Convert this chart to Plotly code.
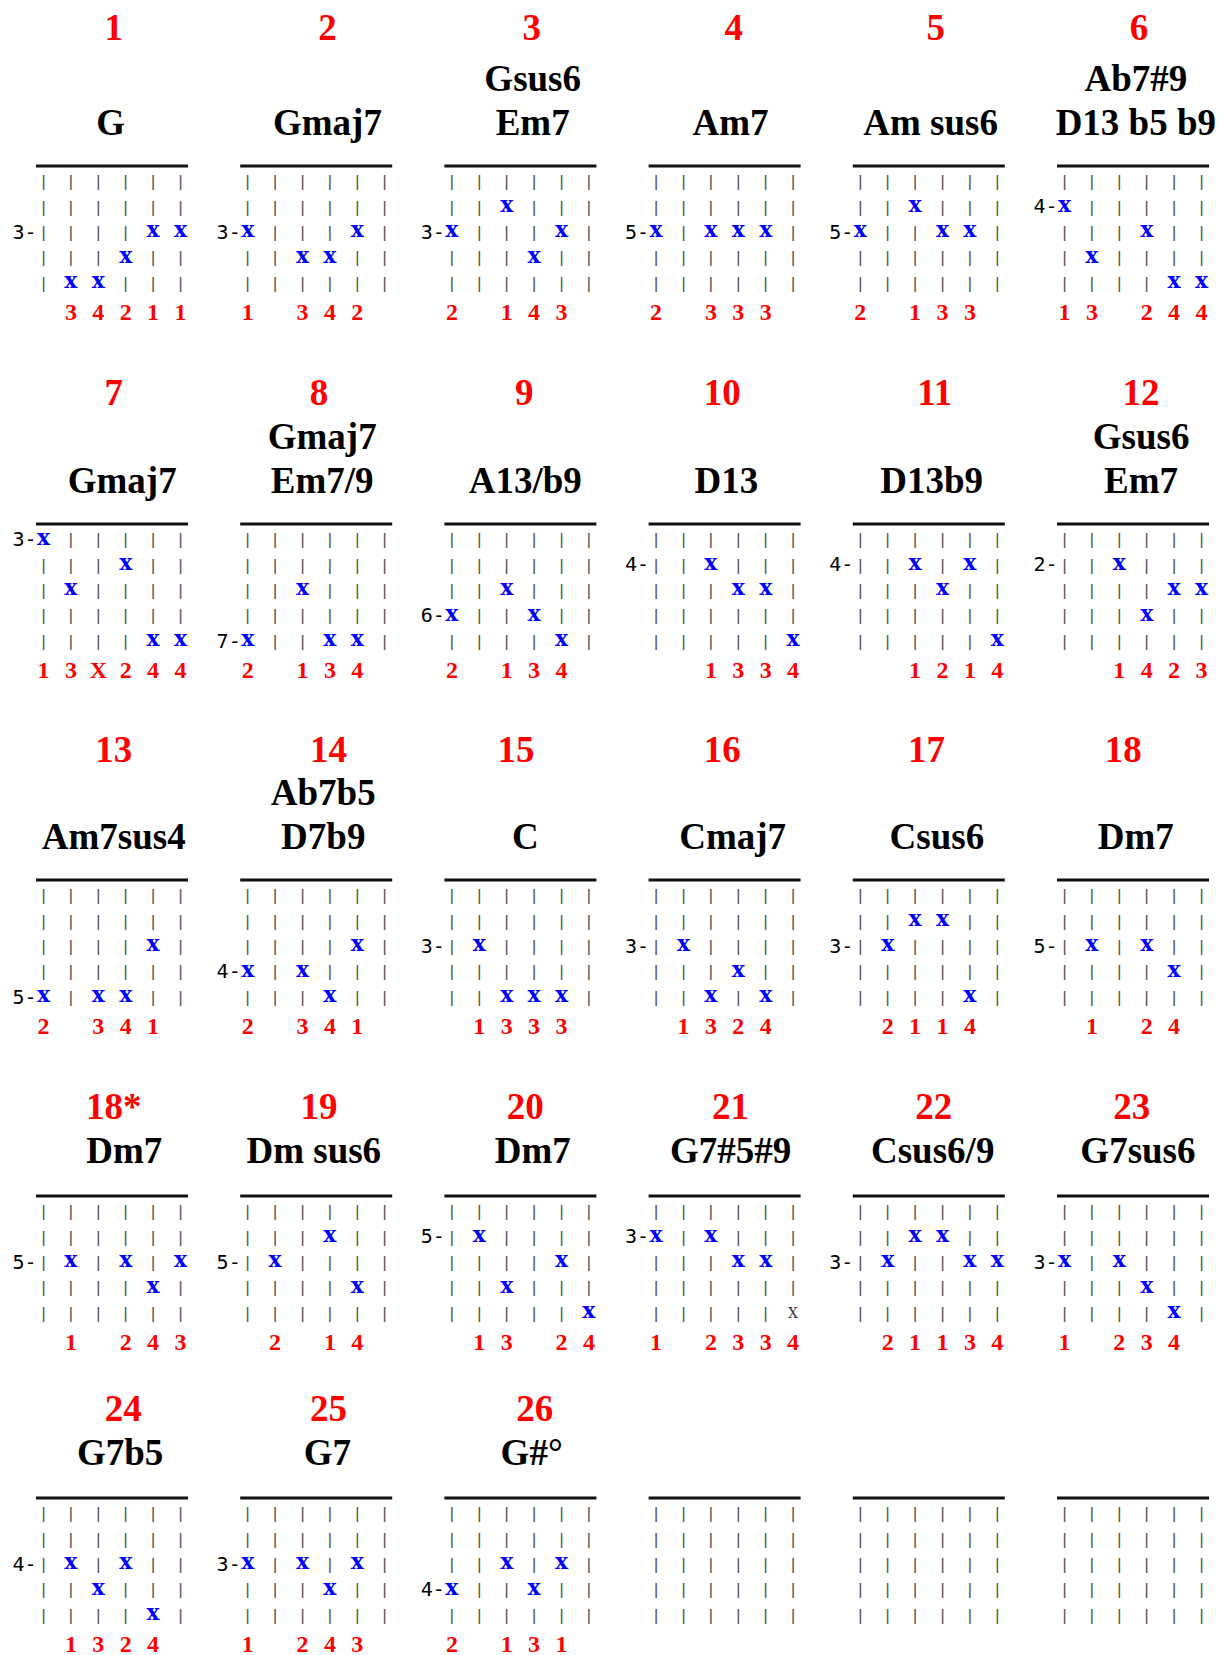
import plotly.graph_objects as go

# ---------------- data ----------------
chord_numbers = ["1", "2", "3", "4", "5", "6",
                 "7", "8", "9", "10", "11", "12",
                 "13", "14", "15", "16", "17", "18",
                 "18*", "19", "20", "21", "22", "23",
                 "24", "25", "26"]

chord_names_upper = ["", "", "Gsus6", "", "", "Ab7#9",
                     "", "Gmaj7", "", "", "", "Gsus6",
                     "", "Ab7b5", "", "", "", "",
                     "", "", "", "", "", "",
                     "", "", ""]

chord_names_lower = ["G", "Gmaj7", "Em7", "Am7", "Am sus6", "D13 b5 b9",
                     "Gmaj7", "Em7/9", "A13/b9", "D13", "D13b9", "Em7",
                     "Am7sus4", "D7b9", "C", "Cmaj7", "Csus6", "Dm7",
                     "Dm7", "Dm sus6", "Dm7", "G7#5#9", "Csus6/9", "G7sus6",
                     "G7b5", "G7", "G#°"]

# fret number shown at the left of the diagram, and the grid row it sits on
fret_labels = ["3", "3", "3", "5", "5", "4",
               "3", "7", "6", "4", "4", "2",
               "5", "4", "3", "3", "3", "5",
               "5", "5", "5", "3", "3", "3",
               "4", "3", "4"]
fret_label_rows = [2, 2, 2, 2, 2, 1,
                   0, 4, 3, 1, 1, 1,
                   4, 3, 2, 2, 2, 2,
                   2, 2, 1, 1, 2, 2,
                   2, 2, 3]

# 5 fret rows x 6 strings: '|' open string, 'x' fretted note, 'X' muted mark
chord_grids = [
    ["||||||", "||||||", "||||xx", "|||x||", "|xx|||"],   # 1
    ["||||||", "||||||", "x|||x|", "||xx||", "||||||"],   # 2
    ["||||||", "||x|||", "x|||x|", "|||x||", "||||||"],   # 3
    ["||||||", "||||||", "x|xxx|", "||||||", "||||||"],   # 4
    ["||||||", "||x|||", "x||xx|", "||||||", "||||||"],   # 5
    ["||||||", "x|||||", "|||x||", "|x||||", "||||xx"],   # 6
    ["x|||||", "|||x||", "|x||||", "||||||", "||||xx"],   # 7
    ["||||||", "||||||", "||x|||", "||||||", "x||xx|"],   # 8
    ["||||||", "||||||", "||x|||", "x||x||", "||||x|"],   # 9
    ["||||||", "||x|||", "|||xx|", "||||||", "|||||x"],   # 10
    ["||||||", "||x|x|", "|||x||", "||||||", "|||||x"],   # 11
    ["||||||", "||x|||", "||||xx", "|||x||", "||||||"],   # 12
    ["||||||", "||||||", "||||x|", "||||||", "x|xx||"],   # 13
    ["||||||", "||||||", "||||x|", "x|x|||", "|||x||"],   # 14
    ["||||||", "||||||", "|x||||", "||||||", "||xxx|"],   # 15
    ["||||||", "||||||", "|x||||", "|||x||", "||x|x|"],   # 16
    ["||||||", "||xx||", "|x||||", "||||||", "||||x|"],   # 17
    ["||||||", "||||||", "|x|x||", "||||x|", "||||||"],   # 18
    ["||||||", "||||||", "|x|x|x", "||||x|", "||||||"],   # 18*
    ["||||||", "|||x||", "|x||||", "||||x|", "||||||"],   # 19
    ["||||||", "|x||||", "||||x|", "||x|||", "|||||x"],   # 20
    ["||||||", "x|x|||", "|||xx|", "||||||", "|||||X"],   # 21
    ["||||||", "||xx||", "|x||xx", "||||||", "||||||"],   # 22
    ["||||||", "||||||", "x|x|||", "|||x||", "||||x|"],   # 23
    ["||||||", "||||||", "|x|x||", "||x|||", "||||x|"],   # 24
    ["||||||", "||||||", "x|x|x|", "|||x||", "||||||"],   # 25
    ["||||||", "||||||", "||x|x|", "x||x||", "||||||"],   # 26
]

# finger numbers under each string (' ' = none)
chord_fingers = [" 34211", "1 342 ", "2 143 ", "2 333 ", "2 133 ", "13 244",
                 "13X244", "2 134 ", "2 134 ", "  1334", "  1214", "  1423",
                 "2 341 ", "2 341 ", " 1333 ", " 1324 ", " 2114 ", " 1 24 ",
                 " 1 243", " 2 14 ", " 13 24", "1 2334", " 21134", "1 234 ",
                 " 1324 ", "1 243 ", "2 131 "]

blank_grid = ["||||||", "||||||", "||||||", "||||||", "||||||"]
n_blank_diagrams = 3

# ---------------- layout ----------------
W, H = 1223, 1655
N_COLS = 6
COL_X0 = 43.5
COL_DX = 204.2
STR_DX = 27.4
UNDER_Y = [166, 524, 880, 1196, 1498]
NUMBER_Y = [31, 396, 753, 1110, 1412]
ROW_DY0 = 17
ROW_DY = 25.4
FINGER_DY = 148
NAME_LOWER_DY = [-40, -40, -40, -42, -42]
NAME_UPPER_DY = [-84, -84, -84, -86, -86]
HEAD_DX = 6
# small horizontal nudges of the centred header texts (px)
NUM_NUDGE = [-4, 5, 5, 3, 1, 0,
             -4, -3, -2, -8, 0, 2,
             -4, 6, -10, -8, -8, -15,
             -4, -3, -1, 0, -1, -7,
             5, 6, 8]
NAME_NUDGE = [-7, 5, 6, 0, -4, -3,
              4, 0, -1, -4, -3, 2,
              -4, 1, -1, 2, 2, -3,
              6, -8, 6, 0, -2, -1,
              2, 5, 5]

all_grids = chord_grids + [blank_grid] * n_blank_diagrams

bar_x, bar_y = [], []
dot_x, dot_y = [], []
mute_x, mute_y = [], []
lab_x, lab_y, lab_t = [], [], []
fin_x, fin_y, fin_t = [], [], []
num_x, num_y, num_t = [], [], []
nam_x, nam_y, nam_t = [], [], []
ul_x, ul_y = [], []

for d, grid in enumerate(all_grids):
    blk, col = divmod(d, N_COLS)
    x0 = COL_X0 + col * COL_DX
    yu = UNDER_Y[blk]
    ul_x += [x0 - 7.5, x0 + 5 * STR_DX + 7.5, None]
    ul_y += [yu, yu, None]
    for r, rowtxt in enumerate(grid):
        yr = yu + ROW_DY0 + r * ROW_DY
        for s, ch in enumerate(rowtxt):
            xs = x0 + s * STR_DX
            if ch == "|":
                bar_x.append(xs); bar_y.append(yr)
            elif ch == "x":
                dot_x.append(xs); dot_y.append(yr - 2)
            elif ch == "X":
                mute_x.append(xs); mute_y.append(yr)
    if d < len(chord_grids):
        yr = yu + ROW_DY0 + fret_label_rows[d] * ROW_DY
        lab_x.append(x0 - 7); lab_y.append(yr); lab_t.append(fret_labels[d] + "-")
        for s, ch in enumerate(chord_fingers[d]):
            if ch != " ":
                fin_x.append(x0 + s * STR_DX); fin_y.append(yu + FINGER_DY); fin_t.append(ch)
        xc = x0 + 2.5 * STR_DX + HEAD_DX
        num_x.append(xc + NUM_NUDGE[d] * 1.05); num_y.append(NUMBER_Y[blk]); num_t.append(chord_numbers[d])
        nam_x.append(xc + NAME_NUDGE[d] * 1.05); nam_y.append(yu + NAME_LOWER_DY[blk]); nam_t.append(chord_names_lower[d])
        if chord_names_upper[d]:
            nam_x.append(xc + NAME_NUDGE[d] * 1.05); nam_y.append(yu + NAME_UPPER_DY[blk]); nam_t.append(chord_names_upper[d])

fig = go.Figure()

fig.add_trace(go.Scatter(x=ul_x, y=ul_y, mode="lines",
                         line=dict(color="#111111", width=2.8), hoverinfo="skip"))

def text_trace(x, y, t, family, size, color, weight="normal", pos="middle center"):
    return go.Scatter(x=x, y=y, mode="text", text=t, textposition=pos,
                      textfont=dict(family=family, size=size, color=color, weight=weight),
                      hoverinfo="skip")

fig.add_trace(text_trace(bar_x, bar_y, ["|"] * len(bar_x), "Liberation Mono", 17, "#555555"))
fig.add_trace(text_trace(dot_x, dot_y, ["x"] * len(dot_x), "DejaVu Serif", 22, "#0000FF", "bold"))
fig.add_trace(text_trace(mute_x, mute_y, ["X"] * len(mute_x), "DejaVu Serif", 14, "#333333"))
fig.add_trace(text_trace(lab_x, lab_y, lab_t, "DejaVu Sans Mono", 20, "#000000", pos="middle left"))
fig.add_trace(text_trace(fin_x, fin_y, fin_t, "Liberation Serif", 24, "#FF0000", "bold"))
fig.add_trace(text_trace(num_x, num_y, num_t, "Liberation Serif", 37, "#FF0000", "bold"))
fig.add_trace(text_trace(nam_x, nam_y, nam_t, "Liberation Serif", 37, "#000000", "bold"))

fig.update_layout(
    width=W, height=H,
    margin=dict(l=0, r=0, t=0, b=0),
    paper_bgcolor="white", plot_bgcolor="white",
    showlegend=False,
    xaxis=dict(range=[0, W], visible=False, fixedrange=True),
    yaxis=dict(range=[H, 0], visible=False, fixedrange=True),
)

fig.write_html("out.html", config={"displayModeBar": False, "staticPlot": True},
               post_script="document.body.style.margin='0';document.body.style.overflow='hidden';")
